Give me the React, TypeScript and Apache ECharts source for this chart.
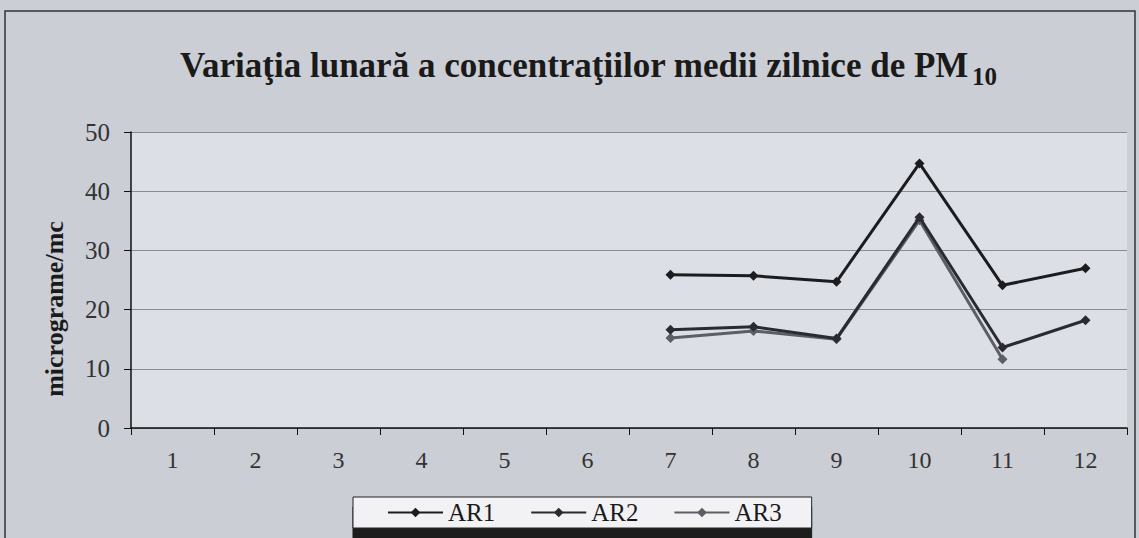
import React, { useEffect, useRef } from "react";
import * as echarts from "echarts";

const months = ["1", "2", "3", "4", "5", "6", "7", "8", "9", "10", "11", "12"];
const ar1 = [null, null, null, null, null, null, 25.9, 25.7, 24.7, 44.7, 24.1, 27.0];
const ar2 = [null, null, null, null, null, null, 16.6, 17.1, 15.1, 35.6, 13.6, 18.2];
const ar3 = [null, null, null, null, null, null, 15.2, 16.4, 15.0, 35.1, 11.6, null];
const seriesNames = ["AR1", "AR2", "AR3"];
const seriesColors = ["#1c1c20", "#2a2a30", "#5c5e66"];

export default function App() {
  const ref = useRef<HTMLDivElement>(null);
  useEffect(() => {
    const chart = echarts.init(ref.current!, null, { renderer: "svg" });
    const serif = "'Liberation Serif', 'Times New Roman', serif";
    const data = [ar1, ar2, ar3];
    chart.setOption({
      animation: false,
      backgroundColor: "#cbced5",
      textStyle: { fontFamily: serif },
      title: {
        left: 180,
        top: 48,
        padding: 0,
        text: "{a|Variaţia lunară a concentraţiilor medii zilnice de PM}{s|10}",
        textStyle: {
          rich: {
            a: { fontFamily: serif, fontSize: 35, fontWeight: "bold", color: "#1a1a1a", lineHeight: 40, verticalAlign: "top" },
            s: { fontFamily: serif, fontSize: 25, fontWeight: "bold", color: "#1a1a1a", lineHeight: 26, verticalAlign: "top", padding: [16, 0, 0, 3] },
          },
        },
      },
      graphic: [
        {
          type: "rect",
          shape: { x: 5, y: 11, width: 1130, height: 540 },
          style: { fill: "none", stroke: "#333", lineWidth: 1.5 },
          z: -1,
        },
        {
          type: "text",
          x: 54,
          y: 309,
          rotation: Math.PI / 2,
          style: {
            text: "micrograme/mc",
            fontFamily: serif,
            fontSize: 26,
            fontWeight: "bold",
            fill: "#1a1a1a",
            align: "center",
            verticalAlign: "middle",
          },
        },
      ],
      grid: {
        left: 131,
        right: 12,
        top: 132,
        bottom: 110,
        show: true,
        backgroundColor: "#dcdfe5",
        borderWidth: 0,
      },
      legend: {
        bottom: 10,
        left: 353,
        itemGap: 35,
        itemWidth: 55,
        itemHeight: 12,
        padding: [3, 30, 3, 34],
        backgroundColor: "#f2f2f4",
        borderColor: "#222",
        borderWidth: 1,
        shadowColor: "#1a1a1a",
        shadowBlur: 0,
        shadowOffsetY: 10,
        shadowOffsetX: 0,
        textStyle: { fontFamily: serif, fontSize: 25, color: "#1a1a1a" },
        data: seriesNames,
      },
      xAxis: {
        type: "category",
        data: months,
        boundaryGap: true,
        axisLine: { lineStyle: { color: "#111", width: 1.5 } },
        axisTick: { show: true, alignWithLabel: false, length: 7, lineStyle: { color: "#111" } },
        axisLabel: { fontFamily: serif, fontSize: 24, color: "#333", margin: 20 },
      },
      yAxis: {
        type: "value",
        min: 0,
        max: 50,
        interval: 10,
        axisLine: { show: true, lineStyle: { color: "#111", width: 1.5 } },
        axisTick: { show: true, length: 7, lineStyle: { color: "#111" } },
        axisLabel: { fontFamily: serif, fontSize: 25, color: "#333", margin: 21 },
        splitLine: { lineStyle: { color: "#8a8c92", width: 1 } },
      },
      series: seriesNames.map((n, i) => ({
        name: n,
        type: "line",
        data: data[i],
        connectNulls: false,
        symbol: "diamond",
        symbolSize: 10,
        lineStyle: { color: seriesColors[i], width: 3 },
        itemStyle: { color: seriesColors[i] },
        z: 3 - i,
      })),
    });
    return () => chart.dispose();
  }, []);
  return <div ref={ref} style={{ width: 1139, height: 538, position: "absolute", left: 0, top: 0 }} />;
}
